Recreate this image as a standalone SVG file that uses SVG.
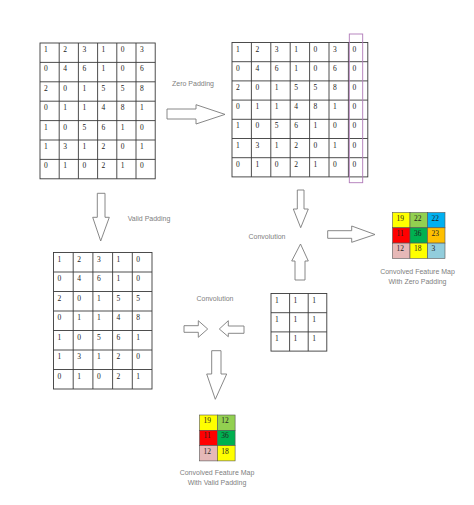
<svg xmlns="http://www.w3.org/2000/svg" width="474" height="505" viewBox="0 0 474 505">
<style>
.cell{fill:none;stroke:#3a3a3a;stroke-width:0.9}
.n{font-family:"Liberation Serif",serif;font-size:7.5px;fill:#222}
.lbl{font-family:"Liberation Sans",Arial,sans-serif;font-size:7px;fill:#808080;text-anchor:middle}
.arr{fill:#fff;stroke:#7a7a7a;stroke-width:0.9}
.fm{stroke:#555;stroke-width:0.6}
</style>
<rect width="474" height="505" fill="#fff"/>

<g id="input-matrix">
<rect class="cell" x="40" y="43" width="115.2" height="135.8"/>
<path class="cell" d="M59.2 43V178.8M78.4 43V178.8M97.6 43V178.8M116.8 43V178.8M136 43V178.8M40 62.4H155.2M40 81.8H155.2M40 101.2H155.2M40 120.6H155.2M40 140H155.2M40 159.4H155.2"/>
<g class="n">
<text x="44" y="52">1</text><text x="63.2" y="52">2</text><text x="82.4" y="52">3</text><text x="101.6" y="52">1</text><text x="120.8" y="52">0</text><text x="140" y="52">3</text>
<text x="44" y="71.4">0</text><text x="63.2" y="71.4">4</text><text x="82.4" y="71.4">6</text><text x="101.6" y="71.4">1</text><text x="120.8" y="71.4">0</text><text x="140" y="71.4">6</text>
<text x="44" y="90.8">2</text><text x="63.2" y="90.8">0</text><text x="82.4" y="90.8">1</text><text x="101.6" y="90.8">5</text><text x="120.8" y="90.8">5</text><text x="140" y="90.8">8</text>
<text x="44" y="110.2">0</text><text x="63.2" y="110.2">1</text><text x="82.4" y="110.2">1</text><text x="101.6" y="110.2">4</text><text x="120.8" y="110.2">8</text><text x="140" y="110.2">1</text>
<text x="44" y="129.6">1</text><text x="63.2" y="129.6">0</text><text x="82.4" y="129.6">5</text><text x="101.6" y="129.6">6</text><text x="120.8" y="129.6">1</text><text x="140" y="129.6">0</text>
<text x="44" y="149">1</text><text x="63.2" y="149">3</text><text x="82.4" y="149">1</text><text x="101.6" y="149">2</text><text x="120.8" y="149">0</text><text x="140" y="149">1</text>
<text x="44" y="168.4">0</text><text x="63.2" y="168.4">1</text><text x="82.4" y="168.4">0</text><text x="101.6" y="168.4">2</text><text x="120.8" y="168.4">1</text><text x="140" y="168.4">0</text>
</g>
</g>

<g id="zero-padded-matrix">
<rect class="cell" x="232" y="42.5" width="135.8" height="134.4"/>
<path class="cell" d="M251.4 42.5V176.9M270.8 42.5V176.9M290.2 42.5V176.9M309.6 42.5V176.9M329 42.5V176.9M348.4 42.5V176.9M232 61.7H367.8M232 80.9H367.8M232 100.1H367.8M232 119.3H367.8M232 138.5H367.8M232 157.7H367.8"/>
<g class="n">
<text x="236" y="51.5">1</text><text x="255.4" y="51.5">2</text><text x="274.8" y="51.5">3</text><text x="294.2" y="51.5">1</text><text x="313.6" y="51.5">0</text><text x="333" y="51.5">3</text><text x="352.4" y="51.5">0</text>
<text x="236" y="70.7">0</text><text x="255.4" y="70.7">4</text><text x="274.8" y="70.7">6</text><text x="294.2" y="70.7">1</text><text x="313.6" y="70.7">0</text><text x="333" y="70.7">6</text><text x="352.4" y="70.7">0</text>
<text x="236" y="89.9">2</text><text x="255.4" y="89.9">0</text><text x="274.8" y="89.9">1</text><text x="294.2" y="89.9">5</text><text x="313.6" y="89.9">5</text><text x="333" y="89.9">8</text><text x="352.4" y="89.9">0</text>
<text x="236" y="109.1">0</text><text x="255.4" y="109.1">1</text><text x="274.8" y="109.1">1</text><text x="294.2" y="109.1">4</text><text x="313.6" y="109.1">8</text><text x="333" y="109.1">1</text><text x="352.4" y="109.1">0</text>
<text x="236" y="128.3">1</text><text x="255.4" y="128.3">0</text><text x="274.8" y="128.3">5</text><text x="294.2" y="128.3">6</text><text x="313.6" y="128.3">1</text><text x="333" y="128.3">0</text><text x="352.4" y="128.3">0</text>
<text x="236" y="147.5">1</text><text x="255.4" y="147.5">3</text><text x="274.8" y="147.5">1</text><text x="294.2" y="147.5">2</text><text x="313.6" y="147.5">0</text><text x="333" y="147.5">1</text><text x="352.4" y="147.5">0</text>
<text x="236" y="166.7">0</text><text x="255.4" y="166.7">1</text><text x="274.8" y="166.7">0</text><text x="294.2" y="166.7">2</text><text x="313.6" y="166.7">1</text><text x="333" y="166.7">0</text><text x="352.4" y="166.7">0</text>
</g>
<rect x="349.3" y="34" width="13.4" height="148.7" fill="none" stroke="#b07ab8" stroke-width="0.9"/>
</g>

<g id="valid-matrix">
<rect class="cell" x="53.5" y="252.5" width="98.5" height="136.5"/>
<path class="cell" d="M73.2 252.5V389M92.9 252.5V389M112.6 252.5V389M132.3 252.5V389M53.5 272H152M53.5 291.5H152M53.5 311H152M53.5 330.5H152M53.5 350H152M53.5 369.5H152"/>
<g class="n">
<text x="57.5" y="261.5">1</text><text x="77.2" y="261.5">2</text><text x="96.9" y="261.5">3</text><text x="116.6" y="261.5">1</text><text x="136.3" y="261.5">0</text>
<text x="57.5" y="281">0</text><text x="77.2" y="281">4</text><text x="96.9" y="281">6</text><text x="116.6" y="281">1</text><text x="136.3" y="281">0</text>
<text x="57.5" y="300.5">2</text><text x="77.2" y="300.5">0</text><text x="96.9" y="300.5">1</text><text x="116.6" y="300.5">5</text><text x="136.3" y="300.5">5</text>
<text x="57.5" y="320">0</text><text x="77.2" y="320">1</text><text x="96.9" y="320">1</text><text x="116.6" y="320">4</text><text x="136.3" y="320">8</text>
<text x="57.5" y="339.5">1</text><text x="77.2" y="339.5">0</text><text x="96.9" y="339.5">5</text><text x="116.6" y="339.5">6</text><text x="136.3" y="339.5">1</text>
<text x="57.5" y="359">1</text><text x="77.2" y="359">3</text><text x="96.9" y="359">1</text><text x="116.6" y="359">2</text><text x="136.3" y="359">0</text>
<text x="57.5" y="378.5">0</text><text x="77.2" y="378.5">1</text><text x="96.9" y="378.5">0</text><text x="116.6" y="378.5">2</text><text x="136.3" y="378.5">1</text>
</g>
</g>

<g id="kernel">
<rect class="cell" x="271" y="293.5" width="55.8" height="57.6"/>
<path class="cell" d="M289.6 293.5V351.1M308.2 293.5V351.1M271 312.7H326.8M271 331.9H326.8"/>
<g class="n">
<text x="275" y="302.5">1</text><text x="293.6" y="302.5">1</text><text x="312.2" y="302.5">1</text>
<text x="275" y="321.7">1</text><text x="293.6" y="321.7">1</text><text x="312.2" y="321.7">1</text>
<text x="275" y="340.9">1</text><text x="293.6" y="340.9">1</text><text x="312.2" y="340.9">1</text>
</g>
</g>

<g id="zero-feature-map">
<rect class="fm" x="392.5" y="212.5" width="17.5" height="15.3" fill="#ffff00"/>
<rect class="fm" x="410" y="212.5" width="17.5" height="15.3" fill="#92d050"/>
<rect class="fm" x="427.5" y="212.5" width="17.5" height="15.3" fill="#00b0f0"/>
<rect class="fm" x="392.5" y="227.8" width="17.5" height="15.3" fill="#ff0000"/>
<rect class="fm" x="410" y="227.8" width="17.5" height="15.3" fill="#00b050"/>
<rect class="fm" x="427.5" y="227.8" width="17.5" height="15.3" fill="#ffc000"/>
<rect class="fm" x="392.5" y="243.1" width="17.5" height="15.3" fill="#e6b8b7"/>
<rect class="fm" x="410" y="243.1" width="17.5" height="15.3" fill="#ffff00"/>
<rect class="fm" x="427.5" y="243.1" width="17.5" height="15.3" fill="#92cddc"/>
<g class="n">
<text x="396.5" y="220.5">19</text><text x="414" y="220.5">22</text><text x="431.5" y="220.5">22</text>
<text x="396.5" y="235.8">11</text><text x="414" y="235.8">36</text><text x="431.5" y="235.8">23</text>
<text x="396.5" y="251.1">12</text><text x="414" y="251.1">18</text><text x="431.5" y="251.1">3</text>
</g>
<text class="lbl" x="417.5" y="274">Convolved Feature Map</text>
<text class="lbl" x="417.5" y="284">With Zero Padding</text>
</g>

<g id="valid-feature-map">
<rect class="fm" x="199.5" y="415" width="17.8" height="15.3" fill="#ffff00"/>
<rect class="fm" x="217.3" y="415" width="17.8" height="15.3" fill="#92d050"/>
<rect class="fm" x="199.5" y="430.3" width="17.8" height="15.3" fill="#ff0000"/>
<rect class="fm" x="217.3" y="430.3" width="17.8" height="15.3" fill="#00b050"/>
<rect class="fm" x="199.5" y="445.6" width="17.8" height="15.3" fill="#e6b8b7"/>
<rect class="fm" x="217.3" y="445.6" width="17.8" height="15.3" fill="#ffff00"/>
<g class="n">
<text x="203.5" y="423">19</text><text x="221.3" y="423">12</text>
<text x="203.5" y="438.3">11</text><text x="221.3" y="438.3">36</text>
<text x="203.5" y="453.6">12</text><text x="221.3" y="453.6">18</text>
</g>
<text class="lbl" x="217" y="474.5">Convolved Feature Map</text>
<text class="lbl" x="217" y="484.5">With Valid Padding</text>
</g>

<g id="connectors">
<polygon class="arr" points="167,109 196,109 196,104.7 225,114.4 196,124 196,119 167,119"/>
<polygon class="arr" points="97.3,193.3 105,193.3 105,217.3 109.3,217.3 100.7,241 92.7,217.3 97.3,217.3"/>
<polygon class="arr" points="297.3,190 304,190 304,209 308.3,209 300.7,227.7 293.3,209 297.3,209"/>
<polygon class="arr" points="300.5,244 308.3,261 305,261 305,280 295,280 295,261 291.7,261"/>
<polygon class="arr" points="327.7,230.7 351.7,230.7 351.7,226 375,234.5 351.7,242.3 351.7,238.3 327.7,238.3"/>
<polygon class="arr" points="184,325.7 198.3,325.7 198.3,320.7 207.7,329 198.3,337.3 198.3,332.3 184,332.3"/>
<polygon class="arr" points="219.3,329 228.3,320.7 228.3,326 244,326 244,333.3 228.3,333.3 228.3,336.7"/>
<polygon class="arr" points="211.7,350.7 221,350.7 221,374 226.7,374 215.3,399.3 206.7,374 211.7,374"/>
</g>

<g id="labels">
<text class="lbl" x="193" y="86">Zero Padding</text>
<text class="lbl" x="149" y="221">Valid Padding</text>
<text class="lbl" x="267" y="239">Convolution</text>
<text class="lbl" x="215" y="301">Convolution</text>
</g>
</svg>
